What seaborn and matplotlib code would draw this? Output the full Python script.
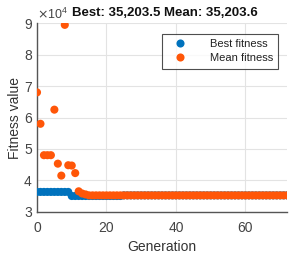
import numpy as np
import pandas as pd
import matplotlib
matplotlib.use("Agg")
import matplotlib.pyplot as plt
import seaborn as sns
from matplotlib.ticker import ScalarFormatter

# ---- data ----
generations = list(range(0, 73))
best_fitness = [36300] * 10 + [35000] * 15 + [35203.5] * 48
mean_fitness = ([68000, 58000, 48000, 48000, 48000, 62500, 45300, 41500,
                 89500, 44800, 44700, 42300, 36500, 35800, 35500]
                + [35203.6] * 58)
series_names = ["Best fitness", "Mean fitness"]
title_text = "Best: 35,203.5 Mean: 35,203.6"
x_ticks = [0, 20, 40, 60]
y_ticks = [30000, 40000, 50000, 60000, 70000, 80000, 90000]

df = pd.concat([
    pd.DataFrame({"Generation": generations, "Fitness": best_fitness, "Series": series_names[0]}),
    pd.DataFrame({"Generation": generations, "Fitness": mean_fitness, "Series": series_names[1]}),
], ignore_index=True)

sns.set_theme(style="white")
plt.rcParams["font.family"] = ["Liberation Sans", "DejaVu Sans"]

fig = plt.figure(figsize=(2.96, 2.56), dpi=100)
ax = fig.add_axes([0.125, 0.173, 0.845, 0.736])

palette = {series_names[0]: "#0072BD", series_names[1]: "#FF5608"}
sns.scatterplot(data=df, x="Generation", y="Fitness", hue="Series",
                palette=palette, s=34, linewidth=0, ax=ax, zorder=3,
                legend=True)

ax.set_xlim(0, 72)
ax.set_ylim(30000, 90000)
ax.set_xticks(x_ticks)
ax.set_yticks(y_ticks)
fmt = ScalarFormatter(useMathText=True)
fmt.set_powerlimits((0, 0))
ax.yaxis.set_major_formatter(fmt)
ax.yaxis.get_offset_text().set_fontsize(9)
ax.yaxis.get_offset_text().set_color("#808080")

ax.grid(True, color="#e3e3e3", linewidth=0.8, zorder=0)
ax.set_axisbelow(True)
for side in ["top", "right"]:
    ax.spines[side].set_visible(False)
for side in ["left", "bottom"]:
    ax.spines[side].set_color("#555555")
    ax.spines[side].set_linewidth(1.0)
ax.tick_params(axis="both", direction="in", length=2, labelsize=10,
               colors="#555555", labelcolor="#444444")
ax.tick_params(axis="x", pad=7)
ax.tick_params(axis="y", pad=3)

ax.set_xlabel("Generation", fontsize=10, color="#333333", labelpad=3)
ax.set_ylabel("Fitness value", fontsize=10, color="#333333", labelpad=1)
ax.set_title(title_text, fontsize=9.5, fontweight="bold", color="#111111",
             pad=5, x=0.51)

leg = ax.legend(loc="upper right", bbox_to_anchor=(0.965, 0.945), frameon=True,
                fancybox=False, edgecolor="#222222", fontsize=8,
                handletextpad=1.6, borderpad=0.5, labelspacing=0.35,
                borderaxespad=0, handlelength=2.2, markerscale=1.0)
leg.get_frame().set_linewidth(0.8)
for t in leg.get_texts():
    t.set_color("#222222")

fig.savefig("out.png", dpi=100)
